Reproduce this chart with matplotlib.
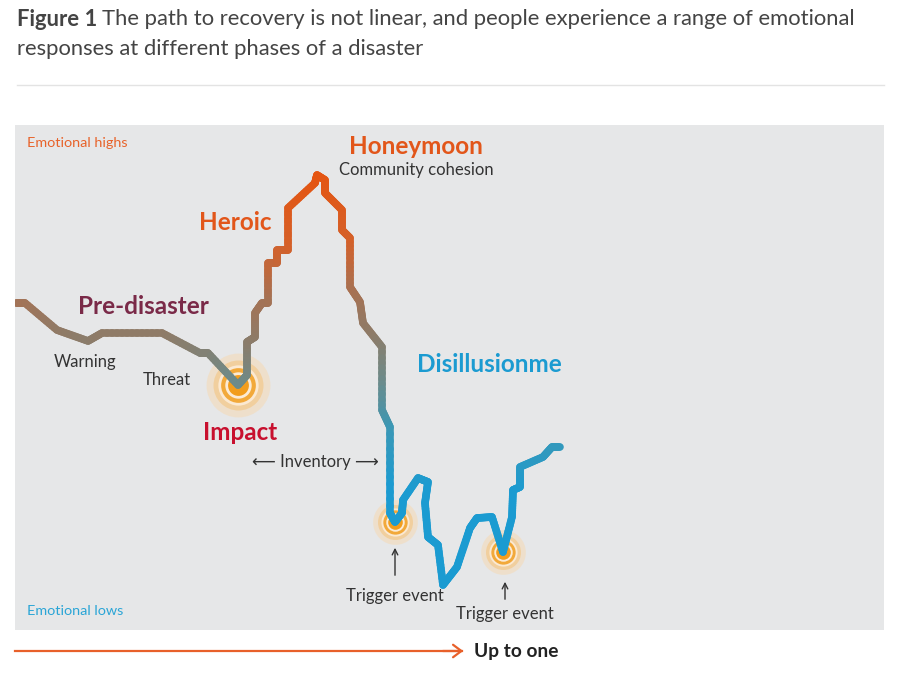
import numpy as np
import matplotlib
matplotlib.use('Agg')
from matplotlib import pyplot as plt
from matplotlib.collections import LineCollection
from matplotlib.colors import LinearSegmentedColormap

plt.rcParams['font.family'] = ['Lato', 'DejaVu Sans']

# emotional path over time (x = time, y = emotional level)
path_x = [1, 10, 42, 73, 87, 147, 185, 193, 223, 232, 232, 240, 240, 247, 253, 253, 262, 262,
          273, 273, 300, 302, 310, 310, 327, 327, 335, 335, 345, 348, 367, 367, 375, 375,
          380, 387, 388, 403, 413, 410, 413, 423, 428, 442, 455, 462, 477, 488, 497, 498,
          505, 505, 528, 537, 545]
path_y = [327, 327, 300, 289, 297, 297, 277, 277, 245, 255, 288, 293, 317, 327, 327, 367, 367, 380,
          380, 422, 447, 455, 450, 437, 420, 400, 392, 343, 328, 307, 283, 220, 203, 117,
          108, 117, 130, 152, 148, 127, 93, 85, 45, 63, 102, 112, 113, 78, 113, 140,
          143, 163, 173, 183, 183]

# points of impact / trigger events (indices into path)
events = [8, 34, 47]
event_sizes = [1.0, 0.7, 0.7]

phase_labels = ['Honeymoon', 'Heroic', 'Pre-disaster', 'Impact', 'Disillusionme']
phase_pos = [(401, 483), (220, 408), (128, 324), (225, 198), (402, 265)]
phase_colors = ['#e2561a', '#e2561a', '#7a2a48', '#c8102e', '#1b9bd1']
phase_ha = ['center', 'center', 'center', 'center', 'left']

note_labels = ['Community cohesion', 'Warning', 'Threat', '\u27f5 Inventory \u27f6']
note_pos = [(401, 460), (70, 268), (152, 250), (300, 168)]

trigger_x = [380, 490]
trigger_arrow = [(52, 85), (28, 51)]
trigger_text_y = [34, 16]

fig = plt.figure(figsize=(9.09, 6.78), dpi=100)
fig.patch.set_facecolor('white')

ax = fig.add_axes([15 / 909, 48 / 678, 869 / 909, 505 / 678])
ax.set_facecolor('#e6e7e8')
ax.set_xlim(0, 869)
ax.set_ylim(0, 505)
for s in ax.spines.values():
    s.set_visible(False)
ax.set_xticks([])
ax.set_yticks([])

# glows under the line
for idx, k in zip(events, event_sizes):
    ex, ey = path_x[idx], path_y[idx]
    rings = [(46, '#f6d9b0', 0.5), (36, '#f4c27a', 0.55), (29, '#fbe9d2', 1),
             (25, '#f2a93a', 1), (19, '#fcebd5', 1), (15, '#f29d1d', 1)]
    for d, c, a in rings:
        ax.scatter([ex], [ey], s=(d * k) ** 2, color=c, alpha=a, linewidths=0, zorder=2)

# gradient coloured path (colour by emotional level)
cmap = LinearSegmentedColormap.from_list('emo', [
    (0.0, '#1b9bd1'), (0.30, '#1b9bd1'), (0.42, '#3a98b6'), (0.52, '#6b8c8c'),
    (0.62, '#8c7c6a'), (0.72, '#a87152'), (0.82, '#d4612a'), (1.0, '#e8520c')])
xs, ys = [], []
for i in range(len(path_x) - 1):
    n = 12
    xs.extend(np.linspace(path_x[i], path_x[i + 1], n, endpoint=False))
    ys.extend(np.linspace(path_y[i], path_y[i + 1], n, endpoint=False))
xs.append(path_x[-1])
ys.append(path_y[-1])
pts = np.array([xs, ys]).T.reshape(-1, 1, 2)
segs = np.concatenate([pts[:-1], pts[1:]], axis=1)
mid = (np.array(ys[:-1]) + np.array(ys[1:])) / 2
lc = LineCollection(segs, cmap=cmap, norm=plt.Normalize(0, 470), linewidths=5.5,
                    capstyle='round', joinstyle='round', zorder=3)
lc.set_array(mid)
ax.add_collection(lc)

ax.text(12, 487, 'Emotional highs', color='#e8632a', fontsize=10.4, va='center')
ax.text(12, 19, 'Emotional lows', color='#2aa5d6', fontsize=10.4, va='center')

for lab, (px, py), c, ha in zip(phase_labels, phase_pos, phase_colors, phase_ha):
    ax.text(px, py, lab, color=c, fontsize=17.5, fontweight='bold', ha=ha, va='center')
for lab, (px, py) in zip(note_labels, note_pos):
    ax.text(px, py, lab, color='#333333', fontsize=12, ha='center', va='center')

for tx, (y0, y1), ty in zip(trigger_x, trigger_arrow, trigger_text_y):
    ax.annotate('', xy=(tx, y1), xytext=(tx, y0),
                arrowprops=dict(arrowstyle='->', color='#333333', lw=1))
    ax.text(tx, ty, 'Trigger event', color='#333333', fontsize=12, ha='center', va='center')

# title
fig.canvas.draw()
r = fig.canvas.get_renderer()
t1 = fig.text(17 / 909, 1 - 19 / 678, 'Figure 1', fontsize=15.8, fontweight='bold',
              color='#444444', va='center')
bb = t1.get_window_extent(r)
fig.text(bb.x1 / 909 + 5 / 909, 1 - 19 / 678,
         'The path to recovery is not linear, and people experience a range of emotional',
         fontsize=15.8, color='#444444', va='center')
fig.text(17 / 909, 1 - 49 / 678, 'responses at different phases of a disaster',
         fontsize=15.8, color='#444444', va='center')
fig.add_artist(plt.Line2D([17 / 909, 884 / 909], [1 - 85 / 678] * 2, color='#e3e3e3', lw=1))

# time arrow
fig.add_artist(plt.Line2D([15 / 909, 462 / 909], [1 - 651 / 678] * 2, color='#e8602a', lw=1.6))
ax2 = fig.add_axes([0, 0, 1, 1], facecolor='none')
ax2.set_xlim(0, 909)
ax2.set_ylim(678, 0)
ax2.axis('off')
ax2.annotate('', xy=(466, 651), xytext=(440, 651),
             arrowprops=dict(arrowstyle='->,head_length=0.6,head_width=0.45', color='#e8602a', lw=1.6))
ax2.text(474, 651, 'Up to one', fontsize=13.8, fontweight='bold', color='#222222', va='center')

fig.savefig('out.png', dpi=100)
